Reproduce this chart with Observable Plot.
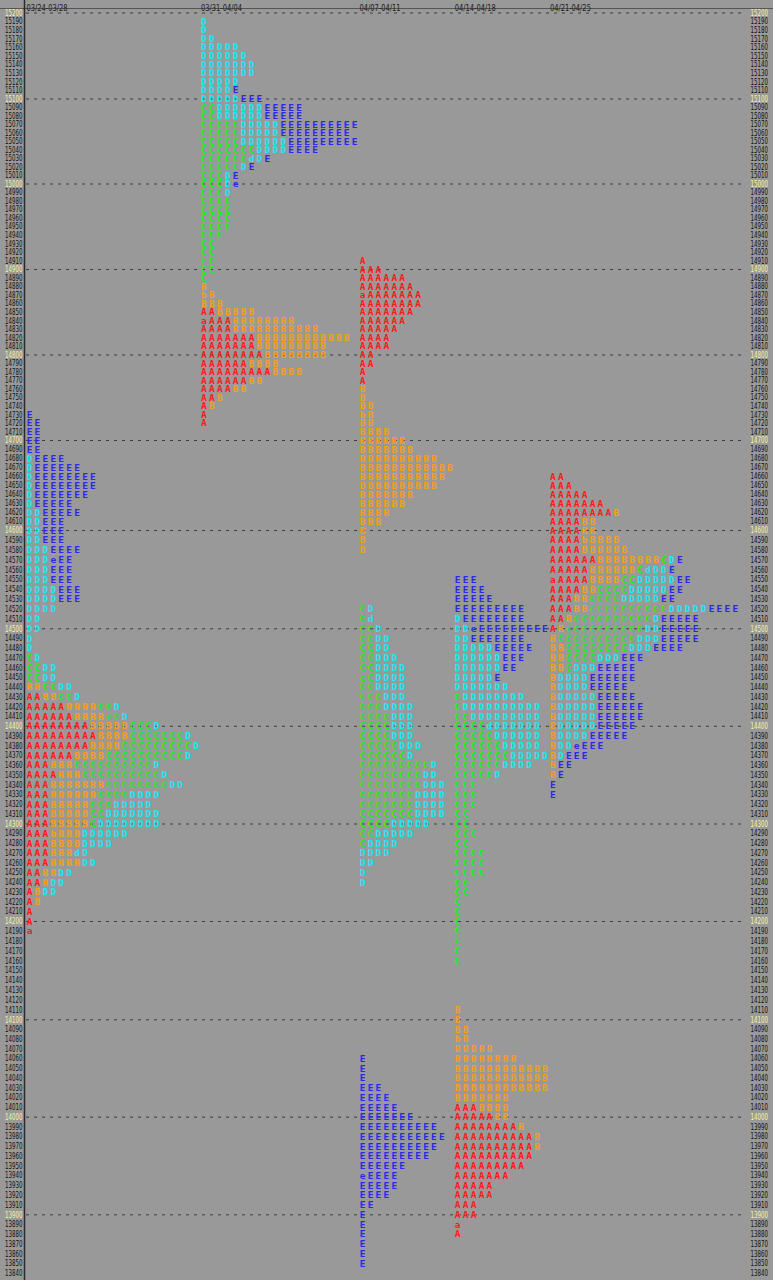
<!DOCTYPE html>
<html><head><meta charset="utf-8">
<script src="https://cdn.jsdelivr.net/npm/d3@7"></script>
<script src="https://cdn.jsdelivr.net/npm/@observablehq/plot@0.6"></script>
<style>
html,body{margin:0;padding:0;background:#999999;overflow:hidden;}
#chart svg{display:block;overflow:visible;}
</style>
</head><body><div id="chart"></div>
<script>
// ---- Data: weekly TPO profiles (each string = one 10-point price row, from top price downward) ----
const profileLabels = ["03/24-03/28", "03/31-04/04", "04/07-04/11", "04/14-04/18", "04/21-04/25"];
const profileTopPrices = [14730, 15190, 14910, 14550, 14660];
const priceStep = 10;
const priceMin = 13840, priceMax = 15200;

const profile1Rows = [
  "E","EE","EE","EE","EE",
  "DEEEE","DEEEEEE","DEEEEEEEE","DEEEEEEEE","DEEEEEEE",
  "DEEEEE","DDEEEEE","DDEEE","DDEEE","DDEEE",
  "DDDEEEE","DDDeEE","DDDEEE","DDDEEE","DDDDEEE",
  "DDDDEEE","DDDD","DD","DD","D",
  "D","CD","CCDD","CCDD","BBCCDD",
  "AABBCCD","AAAAABBBBCCD","AAAAAABBBBcCD","AAAAAAAABBBBBCCCD","AAAAAAAAABBBBCCCCCCCD",
  "AAAAAAAABBBBCCCCCCCCCD","AAAAAABBBBCCCCCCCCCCD","AAABBBCCCCCCCCCCD","AAAABBBCCCCCCCCCCD","AAABBBBBBBCCCCCCCCDD",
  "AAABBBBBBCCCCDDDD","AAABBBBBCCCDDDDD","AAABBBBBCCDDDDDDD","AAABBBBBCDDDDDDDD","AAAbBBBDDDDDD",
  "AAABBBBDDDD","AAABBBdD","AAABBBBDD","AABBDD","AABDD",
  "ABDD","AB","A","A","a"
];
const profile2Rows = [
  "D","D","DD","DDDDD","DDDDDD",
  "DDDDDDD","DDDDDDD","DDDDD","DDDDE","DDDDDEEE",
  "CCDDDDDDEEEEE","CCDDDDDDEEEEE","CCCCCDDDDDEEEEEEEEEE","CCCCCDDDDDEEEEEEEEE","CCCCCDDDDDDEEEEEEEEE",
  "CCCCCCCDDDDEEEE","CCCCCCdDE","CCCCCDE","CCCDE","CCCDe",
  "CCCD","CCCC","CCCC","CCCC","CCCC",
  "CCC","CC","CC","cC","CC",
  "C","B","bB","BBB","AABBBBB",
  "aAAABBBBBBBB","AAAABBBBBBBBBBB","AAAAAAABBBBBBBBBBBB","AAAAAAABBBBBBBBB","AAAAAAAABBBBBBBB",
  "AAAAAABBBB","AAAAAAAAABBBB","AAAAAABB","AAAABB","AAB",
  "AB","A","A"
];
const profile3Rows = [
  "A","AAA","AAAAAA","AAAAAAA","aAAAAAAA",
  "AAAAAAAA","AAAAAAA","AAAAAA","AAAAA","AAAA",
  "AAAA","AA","AA","A","A",
  "B","B","BB","bB","BB",
  "BBBB","BBBBBB","BBBBBBB","BBBBBBBBBB","BBBBBBBBBBBB",
  "BBBBBBBBBBB","BBBBBBBBBB","BBBBBBB","BBBBBB","BBBB",
  "BBB","B","B","B","",
  "","","","","CD",
  "Cd","CCD","CCDD","CCDD","CCDDD",
  "CCDDDD","cCDDDD","CCDDDD","CCCDDD","CCCDDDD",
  "CCCCDDD","CCCCDDD","CCCCDDD","CCCCCDDD","CCCCCCD",
  "CCCCCCCCCD","CCCCCCCCDD","CCCCCCCCDDD","CCCCCCCDDDD","CCCCCCCDDDD",
  "CCCCCCCDDDD","CCCCDDDDD","CCDDDDD","CDDDD","DDDD",
  "DD","D","D","","",
  "","","","","",
  "","","","","",
  "","","","","",
  "E","E","E","EEE","EEEE",
  "EEEEE","EEEEEEE","EEEEEEEEEE","EEEEEEEEEEE","EEEEEEEEEE",
  "EEEEEEEEE","EEEEEE","eEEEE","EEEEE","EEEE",
  "EE","E","E","E","E",
  "E","E"
];
const profile4Rows = [
  "EEE","EEEE","EEEEE","EEEEEEEEE","DEEEEEEEE",
  "DDeEEEEEEEEE","DDEEEEEEE","DDDDDEEEEE","DDDDDDEEE","DDDDDDEE",
  "DDDDDE","DDDDDDD","CDDDDDDDD","CDDDDDDDDDD","CCDDDDDDDDD",
  "CCCCdDDDDDD","CCCCCDDDDDD","CCCCCCDDDDD","CCCCCCCDDDDD","CCCCCCDDDD",
  "CCCCCD","CCC","CCC","CCC","CC",
  "CC","CCC","CC","CCCC","CCCC",
  "CCCC","CC","CC","C","C",
  "C","C","c","C","C",
  "","","","","B",
  "B","BB","bB","BBBBB","BBBBBBBB",
  "BBBBBBBBBBBB","BBBBBBBBBBBB","BBBBBBBBBBBB","BBBBBBB","AAABBBB",
  "AAAAABB","AAAAAAAAB","AAAAAAAAAAB","AAAAAAAAAAB","AAAAAAAAAA",
  "AAAAAAAAA","AAAAAAA","AAAAA","AAAAA","AAA",
  "AAA","a","A"
];
const profile5Rows = [
  "AA","AAA","AAAAA","AAAAAAA","AAAAAAAAB",
  "AAAABB","AAAABB","AAAAbBBBB","AAAABBBBBB","AAAAAABBBBBBBBCDE",
  "AAAAABBBBBBCdDDE","aAAAABBBBCCDDDDDEE","AAAABBCCCCDDDDDEE","AAABBCCCCDDDDDEE","AAABBCCCCCCCCCCDDDDDEEEE",
  "AABCCCCCCCCCCDEEEEE","ABcCCCCCCCCCDDEEEEE","BCCCCCCCCCCDDDEEEEE","BBCCCCCCCCDDDEEEE","BBCCCCDDDEEE",
  "BBCDDDEEEEE","BDDDDEEEEEE","BDDDDEEEEE","BDDDDDEEEEE","BDDDDDEEEEEE",
  "BDDDDDEEEEEE","BDDDDDEEEEE","BDDDDEEEEE","BDDeEEE","BDEEE",
  "BEE","BE","E","E"
];
const periodColors = {A: "#ff1a1a", B: "#f59f1a", C: "#18ee18", D: "#1ae8f5", E: "#2a2ae6"};

// ---- Build marks data ----
const profileRows = [profile1Rows, profile2Rows, profile3Rows, profile4Rows, profile5Rows];
const cells = [];
const headers = [];
let startCol = 0;
profileRows.forEach((rows, p) => {
  headers.push({col: startCol, label: profileLabels[p]});
  rows.forEach((row, i) => {
    const price = profileTopPrices[p] - priceStep * i;
    [...row].forEach((ch, j) => cells.push({col: startCol + j, price, ch, period: ch.toUpperCase()}));
  });
  startCol += d3.max(rows, r => r.length);
});
const priceTicks = d3.range(priceMin, priceMax + 1, priceStep);
const hundreds = priceTicks.filter(v => v % 100 === 0);

// The reference's rows are not evenly tall: warp prices piecewise before the linear y scale.
const warpAnchors = [15200, 15100, 15000, 14900, 14800, 14700, 14600, 14500, 14400, 14300, 14200, 14100, 14000, 13900, 13840];
const warpPixels  = [12.5, 98.5, 183.5, 269, 354.5, 440, 530, 628.3, 725.8, 823.5, 921, 1019.3, 1116.7, 1214.3, 1273];
const warp = d3.scaleLinear().domain(warpAnchors).range(warpPixels);

const labelFont = "'DejaVu Sans', sans-serif";
const chart = Plot.plot({
  width: 773,
  height: 1280,
  marginTop: 9,
  marginBottom: 0,
  marginLeft: 24,
  marginRight: 26,
  style: {background: "#999999", overflow: "visible"},
  x: {domain: [-0.63, 90.54], axis: null},
  y: {transform: warp, domain: [warp(priceMax), warp(priceMin)], range: [warp(priceMax), warp(priceMin)], axis: null},
  color: {type: "identity"},
  marks: [
    Plot.ruleY(hundreds, {y: d => d, stroke: "#3c3c3c", strokeDasharray: "3,5", insetLeft: 2, insetRight: 2}),
    Plot.ruleX([-0.63], {stroke: "#2a2a2a", strokeWidth: 1.5, insetTop: -9}),
    Plot.text(cells, {
      x: "col", y: "price", text: "ch",
      fill: d => periodColors[d.period],
      fontFamily: "'DejaVu Sans Mono', monospace", fontWeight: "bold", fontSize: 9.5
    }),
    Plot.text(priceTicks, {
      y: d => d, text: d => String(d), frameAnchor: "left", dx: -2, textAnchor: "end",
      fill: d => d % 100 === 0 ? "#f4f49c" : "#111111",
      fontFamily: labelFont, fontSize: 8.5
    }),
    Plot.text(priceTicks, {
      y: d => d, text: d => String(d), frameAnchor: "right", dx: 3, textAnchor: "start",
      fill: d => d % 100 === 0 ? "#f4f49c" : "#111111",
      fontFamily: labelFont, fontSize: 8.5
    }),
    Plot.text(headers, {
      x: "col", text: "label", frameAnchor: "top", dx: -3, dy: -4.5, textAnchor: "start",
      fill: "#1a1a1a", fontFamily: labelFont, fontSize: 8.5
    })
  ]
});
document.getElementById("chart").appendChild(chart);

// header separator line and condensed bitmap-like label widths
const svg = d3.select(chart);
svg.insert("line", ":first-child")
  .attr("x1", 0).attr("x2", 773).attr("y1", 8.5).attr("y2", 8.5)
  .attr("stroke", "#555555").attr("stroke-width", 1);
svg.selectAll("text").each(function() {
  const t = this.textContent;
  if (/^\d{5}$/.test(t)) d3.select(this).attr("textLength", 17.5).attr("lengthAdjust", "spacingAndGlyphs");
  else if (/^\d\d\/\d\d-\d\d\/\d\d$/.test(t)) d3.select(this).attr("textLength", 41).attr("lengthAdjust", "spacingAndGlyphs");
});
</script>
</body></html>
